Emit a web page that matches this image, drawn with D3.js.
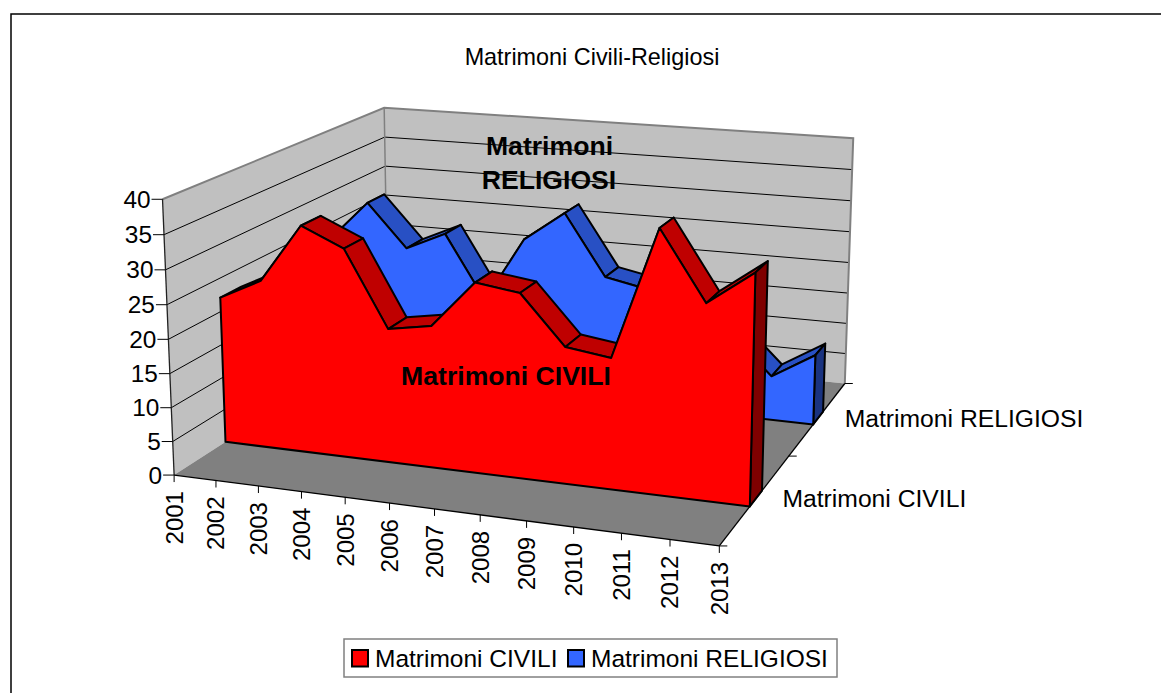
<!DOCTYPE html><html><head><meta charset="utf-8"><script src="https://cdn.jsdelivr.net/npm/d3@7"></script>
<style>html,body{margin:0;background:#fff}svg{display:block}text{font-family:"Liberation Sans",Arial,sans-serif;fill:#000}</style></head><body><script>
const years=["2001","2002","2003","2004","2005","2006","2007","2008","2009","2010","2011","2012","2013"];
const civili=[22.1,25.2,33.9,31.1,19.9,21,27.9,27,19.9,19,37.8,28,32.8];
const religiosi=[22.4,28.8,21.9,24.8,14.6,25,29.7,20.1,18.8,16.1,13.2,6.9,10.9];
const seriesNames=["Matrimoni CIVILI","Matrimoni RELIGIOSI"];
const valueTicks=[0,5,10,15,20,25,30,35,40];
const title="Matrimoni Civili-Religiosi";

const W=1161,H=693;
const M=[483.63538,-16.57694,298.39282,174.11956,24.15061,-281.9014,-65.17432,475.07191,-0.08558,-0.03061,0.21738];
const project=(x,y,z)=>{const w=M[8]*x+M[9]*y+M[10]*z+1;return[(M[0]*x+M[1]*y+M[2]*z+M[3])/w,(M[4]*x+M[5]*y+M[6]*z+M[7])/w]};
const xS=d3.scalePoint().domain(years).range([0,1]);
const yS=d3.scaleLinear().domain([0,40]).range([0,1]);
const zS=d3.scaleBand().domain(seriesNames).range([0,1]).paddingInner(.824).paddingOuter(.412);
const colours={[seriesNames[0]]:{front:"#FF0000",top:"#BF0000",cap:"#7F0000"},[seriesNames[1]]:{front:"#3366FF",top:"#2850C4",cap:"#1A3380"}};
const svg=d3.select("body").append("svg").attr("width",W).attr("height",H).attr("viewBox",`0 0 ${W} ${H}`);
const poly=(pts,fill,stroke,sw)=>svg.append("polygon").attr("points",pts.map(p=>p.map(v=>v.toFixed(2)).join(",")).join(" ")).attr("fill",fill).attr("stroke",stroke||"none").attr("stroke-width",sw||0).attr("stroke-linejoin","round");
const line=(a,b,stroke,sw)=>svg.append("line").attr("x1",a[0]).attr("y1",a[1]).attr("x2",b[0]).attr("y2",b[1]).attr("stroke",stroke).attr("stroke-width",sw);

// chart frame
svg.append("path").attr("d",`M11,${H}V14H${W}`).attr("fill","none").attr("stroke","#000").attr("stroke-width",1.5);
svg.append("text").attr("x",592).attr("y",65).attr("text-anchor","middle").attr("font-size",23.4).text(title);

// walls and floor
const vmax=yS(40);
poly([project(0,0,0),project(0,vmax,0),project(0,vmax,1),project(0,0,1)],"#C0C0C0");
poly([project(0,0,1),project(0,vmax,1),project(1,vmax,1),project(1,0,1)],"#C0C0C0");
poly([project(0,0,0),project(1,0,0),project(1,0,1),project(0,0,1)],"#808080");
valueTicks.slice(1,-1).forEach(v=>{
  const y=yS(v);
  line(project(0,y,0),project(0,y,1),"#000",1);
  line(project(0,y,1),project(1,y,1),"#000",1);
});
svg.append("polyline").attr("points",[project(0,vmax,0),project(0,vmax,1),project(1,vmax,1),project(1,0,1)].join(" ")).attr("fill","none").attr("stroke","#808080").attr("stroke-width",2);
line(project(0,vmax,1),project(0,0,1),"#808080",1.5);

// annotations behind the series
svg.append("text").attr("x",549.5).attr("y",155).attr("text-anchor","middle").attr("font-size",26.6).attr("font-weight","bold").text("Matrimoni");
svg.append("text").attr("x",549).attr("y",189).attr("text-anchor","middle").attr("font-size",26.6).attr("font-weight","bold").text("RELIGIOSI");

// axes lines and ticks
line(project(0,vmax,0),project(0,0,0),"#222",1.3);
line(project(0,0,0),project(1,0,0),"#000",1.3);
line(project(1,0,0),project(1,0,1),"#000",1.3);
valueTicks.forEach(v=>{
  const p=project(0,yS(v),0);
  line([p[0]-11,p[1]],p,"#000",1);
  svg.append("text").attr("x",p[0]-12).attr("y",p[1]).attr("dy","0.35em").attr("text-anchor","end").attr("font-size",24.4).text(v);
});
years.forEach(d=>{
  const p=project(xS(d),0,0);
  line(p,[p[0],p[1]+7],"#000",1);
  svg.append("text").attr("transform",`translate(${p[0]},${p[1]+16}) rotate(-90)`).attr("dy","0.35em").attr("text-anchor","end").attr("font-size",24).text(d);
});
[0,.5,1].forEach(z=>{const p=project(1,0,z);line(p,[p[0]+8,p[1]],"#000",1)});

// series, back to front
function drawSeries(name,values){
  const c=colours[name],z0=zS(name),z1=z0+zS.bandwidth();
  const pts=years.map((d,i)=>[xS(d),yS(values[i])]);
  for(let i=0;i<pts.length-1;i++){
    const [a,b]=[pts[i],pts[i+1]];
    poly([project(a[0],a[1],z0),project(b[0],b[1],z0),project(b[0],b[1],z1),project(a[0],a[1],z1)],c.top,"#000",2);
  }
  const e=pts[pts.length-1];
  poly([project(e[0],0,z0),project(e[0],e[1],z0),project(e[0],e[1],z1),project(e[0],0,z1)],c.cap,"#000",2);
  poly([project(pts[0][0],0,z0),...pts.map(p=>project(p[0],p[1],z0)),project(e[0],0,z0)],c.front,"#000",2);
}
drawSeries(seriesNames[1],religiosi);
drawSeries(seriesNames[0],civili);

svg.append("text").attr("x",506).attr("y",385).attr("text-anchor","middle").attr("font-size",26.6).attr("font-weight","bold").text("Matrimoni CIVILI");

// depth axis labels
seriesNames.forEach(n=>{
  const p=project(1,0,zS(n)+zS.bandwidth()/2);
  svg.append("text").attr("x",p[0]+26.5).attr("y",p[1]).attr("dy","0.35em").attr("font-size",24.7).text(n);
});

// legend
svg.append("rect").attr("x",344).attr("y",639).attr("width",493).attr("height",38).attr("fill","#fff").attr("stroke","#808080").attr("stroke-width",1.5);
const legendX=[352,568];
seriesNames.forEach((n,i)=>{
  svg.append("rect").attr("x",legendX[i]).attr("y",650).attr("width",16).attr("height",16.5).attr("fill",colours[n].front).attr("stroke","#000").attr("stroke-width",2);
  svg.append("text").attr("x",legendX[i]+23).attr("y",667).attr("font-size",24.5).text(n);
});
</script></body></html>
